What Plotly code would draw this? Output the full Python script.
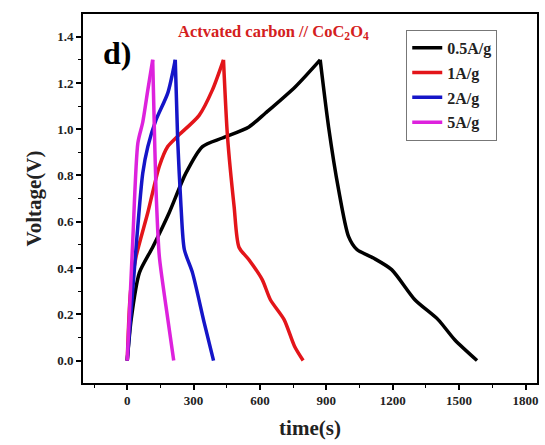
import plotly.graph_objects as go

# ---- data ----
t_05 = [0, 18, 55, 115, 190, 265, 340, 430, 550, 625, 760, 872, 910, 955, 1000, 1038, 1113, 1195, 1300, 1405, 1480, 1581]
v_05 = [0, 0.18, 0.38, 0.49, 0.64, 0.81, 0.925, 0.962, 1.01, 1.07, 1.184, 1.30, 1.01, 0.74, 0.537, 0.48, 0.443, 0.393, 0.263, 0.177, 0.09, 0]

t_1 = [0, 15, 40, 93, 145, 183, 228, 325, 385, 435, 453, 483, 505, 550, 610, 647, 709, 756, 795]
v_1 = [0, 0.30, 0.45, 0.64, 0.84, 0.925, 0.97, 1.06, 1.17, 1.30, 0.97, 0.666, 0.49, 0.436, 0.35, 0.263, 0.177, 0.062, 0]

t_2 = [0, 40, 70, 93, 130, 183, 217, 228, 243, 258, 295, 348, 390]
v_2 = [0, 0.49, 0.81, 0.925, 1.04, 1.156, 1.30, 0.954, 0.666, 0.48, 0.379, 0.163, 0]

t_5 = [0, 25, 48, 70, 93, 115, 120, 130, 145, 175, 210]
v_5 = [0, 0.52, 0.94, 1.03, 1.17, 1.30, 1.10, 0.74, 0.45, 0.235, 0]

names = ["0.5A/g", "1A/g", "2A/g", "5A/g"]
colors = ["#000000", "#e3151a", "#1515c8", "#dd22dd"]
series = [(t_05, v_05), (t_1, v_1), (t_2, v_2), (t_5, v_5)]

x_ticks = [0, 300, 600, 900, 1200, 1500, 1800]
y_ticks = [0.0, 0.2, 0.4, 0.6, 0.8, 1.0, 1.2, 1.4]

SERIF = "Liberation Serif, Times New Roman, serif"

fig = go.Figure()
for i, ((tx, vy), nm, c) in enumerate(zip(series, names, colors)):
    k = vy.index(max(vy))  # peak: split charge / discharge so the corner stays sharp
    fig.add_trace(go.Scatter(
        x=tx[:k + 1], y=vy[:k + 1], mode="lines", name="<b>" + nm + "</b>",
        legendgroup="g%d" % i,
        line=dict(color=c, width=3.5, shape="spline", smoothing=0.7),
    ))
    fig.add_trace(go.Scatter(
        x=tx[k:], y=vy[k:], mode="lines", name="<b>" + nm + "</b>",
        legendgroup="g%d" % i, showlegend=False,
        line=dict(color=c, width=3.5, shape="spline", smoothing=0.7),
    ))

axis_common = dict(
    showgrid=False, zeroline=False, showline=True, linecolor="black",
    linewidth=1.6, mirror=True, ticks="outside", ticklen=5, tickwidth=1.5,
    tickcolor="black",
    tickfont=dict(family=SERIF, size=13, color="#222"),
)

fig.update_xaxes(
    range=[-200, 1852], tickvals=x_ticks,
    ticktext=["<b>%d</b>" % v for v in x_ticks],
    minor=dict(ticks="outside", ticklen=3, tickwidth=1.2, tickcolor="black", dtick=150, tick0=0),
    title=dict(text="<b>time(s)</b>", font=dict(family=SERIF, size=21, color="#222"), standoff=13),
    **axis_common,
)
fig.update_yaxes(
    range=[-0.097, 1.498], tickvals=y_ticks,
    ticktext=["<b>%.1f</b>" % v for v in y_ticks],
    minor=dict(ticks="outside", ticklen=3, tickwidth=1.2, tickcolor="black", dtick=0.1, tick0=0),
    title=dict(text="<b>Voltage(V)</b>", font=dict(family=SERIF, size=21, color="#222"), standoff=10),
    **axis_common,
)

fig.add_annotation(
    x=0.040, y=0.948, xref="paper", yref="paper", xanchor="left", yanchor="top",
    text="<b>d)</b>", showarrow=False,
    font=dict(family=SERIF, size=32, color="black"),
)
fig.add_annotation(
    x=0.42, y=0.985, xref="paper", yref="paper", xanchor="center", yanchor="top",
    text="<b>Actvated carbon // CoC<sub>2</sub>O<sub>4</sub></b>", showarrow=False,
    font=dict(family=SERIF, size=16.5, color="#d42020"),
)

fig.update_layout(
    width=545, height=445,
    margin=dict(l=83, r=6, t=14, b=62),
    paper_bgcolor="white", plot_bgcolor="white",
    showlegend=True,
    legend=dict(
        x=0.712, y=0.957, xanchor="left", yanchor="top",
        bgcolor="white", bordercolor="#777", borderwidth=1,
        font=dict(family=SERIF, size=16, color="#222"),
        tracegroupgap=1, itemwidth=30,
    ),
)

fig.write_html("out.html")
